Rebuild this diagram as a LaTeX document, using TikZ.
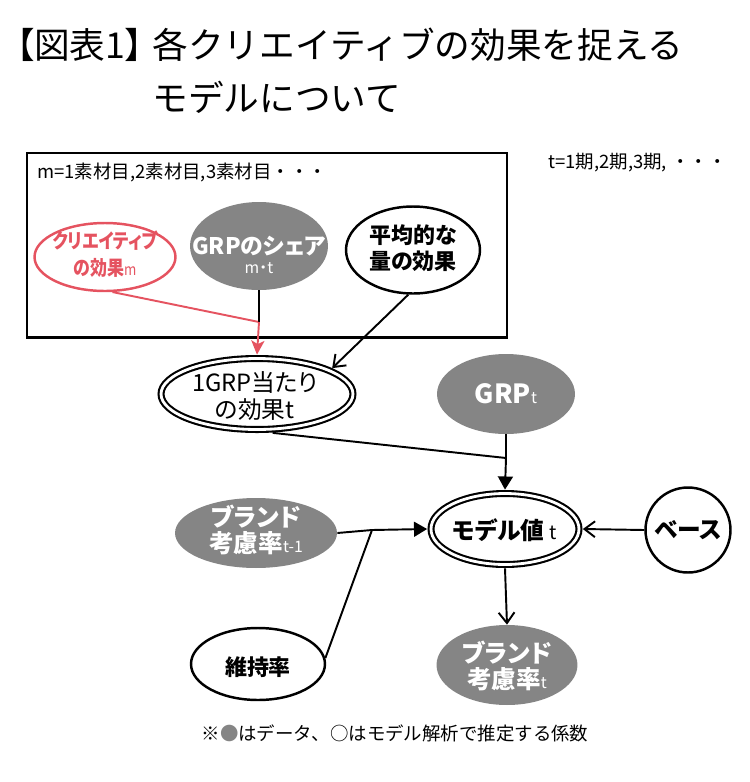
\documentclass[tikz,border=0pt]{standalone}
\usepackage{fontspec}
\setmainfont{Noto Sans CJK JP}
\newfontfamily\jpnode[RawFeature=+palt]{Noto Sans CJK JP}
\newfontfamily\jpnarrow[RawFeature=+palt,FakeStretch=0.84]{Noto Sans CJK JP}
\usetikzlibrary{arrows.meta,shapes.geometric}
\definecolor{datagray}{RGB}{133,133,133}
\definecolor{creatred}{RGB}{229,83,96}
\newcommand{\smallidx}[1]{{\mdseries\fontsize{9pt}{9pt}\selectfont #1}}

\begin{document}
\begin{tikzpicture}[x=0.02cm,y=-0.02cm,
  coef/.style={ellipse,draw,line width=1.4pt,inner sep=0pt},
  data/.style={ellipse,fill=datagray,inner sep=0pt},
  model/.style={ellipse,draw,line width=1.2pt,double,double distance=1.6pt,
                inner sep=0pt,outer sep=2.2pt},
  lbl/.style={align=center,inner sep=0pt,
              font=\jpnode\bfseries\fontsize{#1pt}{15pt}\selectfont},
  lblr/.style={align=center,inner sep=0pt,
               font=\jpnode\fontsize{#1pt}{15pt}\selectfont},
  conn/.style={line width=1.1pt},
  fillarrow/.style={-{Triangle[length=7.5pt,width=8.5pt]}},
  openarrow/.style={-{Straight Barb[length=6pt,width=9pt]}}]
\useasboundingbox (0,0) rectangle (750,782);

% title
\node[anchor=west,inner sep=0pt,font=\jpnode\fontsize{20.3pt}{24pt}\selectfont]
  (title0) at (16,45) {【図表1】};
\node[anchor=west,inner sep=0pt,font=\fontsize{20.3pt}{24pt}\selectfont]
  (title1) at (152,45) {各クリエイティブの効果を捉える};
\node[anchor=west,inner sep=0pt,font=\fontsize{20.3pt}{24pt}\selectfont]
  (title2) at (152,97) {モデルについて};

% plate over m
\draw[line width=1.7pt] (27,153) rectangle (507,337);
\node[anchor=west,inner sep=0pt,font=\fontsize{10.5pt}{12pt}\selectfont]
  (mlist) at (37,172) {m=1素材目,2素材目,3素材目・・・};
\node[anchor=west,inner sep=0pt,font=\fontsize{10.5pt}{12pt}\selectfont]
  (tlist) at (548,163) {t=1期,2期,3期, ・・・};

\node[coef,draw=creatred,minimum width=2.82cm,minimum height=1.36cm]
  (creative) at (105,257) {};
\node[lbl=11.5,font=\jpnarrow\bfseries\fontsize{11.5pt}{15pt}\selectfont,
  text=creatred] (creative-t) at (105,254)
  {クリエイティブ\\の効果\smallidx{m}};
\node[data,minimum width=2.76cm,minimum height=1.76cm] (share) at (259,246) {};
\node[lbl=13,text=white] (share-t) at (259,255)
  {GRPのシェア\\[-4pt]\smallidx{m・t}};
\node[coef,minimum width=2.68cm,minimum height=1.74cm] (avgeff) at (413,250) {};
\node[lbl=12.5] (avgeff-t) at (413,248) {平均的な\\量の効果};

% middle row
\node[model,minimum width=3.84cm,minimum height=1.42cm] (grpeff) at (257,394) {};
\node[lblr=13.5] (grpeff-t) at (255,396) {1GRP当たり\\の効果t};
\node[data,minimum width=2.76cm,minimum height=1.6cm] (grpt) at (506,394) {};
\node[lbl=15,text=white] (grpt-t) at (506,394) {GRP\smallidx{t}};

% model value and inputs
\node[model,minimum width=2.96cm,minimum height=1.42cm] (mval) at (505,529) {};
\node[lbl=13.5] (mval-t) at (505,530)
  {モデル値 {\mdseries\fontsize{11pt}{11pt}\selectfont t}};
\node[coef,minimum width=1.7cm,minimum height=1.7cm] (base) at (688,530) {};
\node[lbl=13.5] (base-t) at (688,530) {ベース};
\node[data,minimum width=3.24cm,minimum height=1.4cm] (prevrate) at (256,533) {};
\node[lbl=14,text=white] (prevrate-t) at (256,530) {ブランド\\考慮率\smallidx{t-1}};
\node[coef,minimum width=2.68cm,minimum height=1.44cm] (retain) at (258,664) {};
\node[lbl=12.5] (retain-t) at (258,667) {維持率};
\node[data,minimum width=2.82cm,minimum height=1.6cm] (brandrate) at (507,665) {};
\node[lbl=14,text=white] (brandrate-t) at (507,666) {ブランド\\考慮率\smallidx{t}};

% joints
\coordinate (j1) at (259,322);
\coordinate (j2) at (506,458);
\coordinate (j3) at (372,530);

\draw[conn,creatred] (creative.-78) -- (j1);
\draw[conn] (share.south) -- (j1);
\draw[conn,creatred,-{Stealth[length=8pt,width=7.5pt,inset=2pt]}]
  (j1) -- (grpeff.north);
\draw[conn,openarrow] (avgeff.264) -- (grpeff.19);
\draw[conn] (grpeff.-68) -- (j2);
\draw[conn] (grpt.south) -- (j2);
\draw[conn,fillarrow] (j2) -- (mval.north);
\draw[conn] (prevrate.east) -- (j3);
\draw[conn] (retain.5) -- (j3);
\draw[conn,fillarrow] (j3) -- (mval.west);
\draw[conn,openarrow] (base.west) -- (mval.east);
\draw[conn,openarrow] (mval.south) -- (brandrate.north);

% note
\node[inner sep=0pt,font=\fontsize{10.5pt}{12pt}\selectfont] (note) at (395,733)
  {※{\color{datagray}●}はデータ、○はモデル解析で推定する係数};
\end{tikzpicture}
\end{document}
